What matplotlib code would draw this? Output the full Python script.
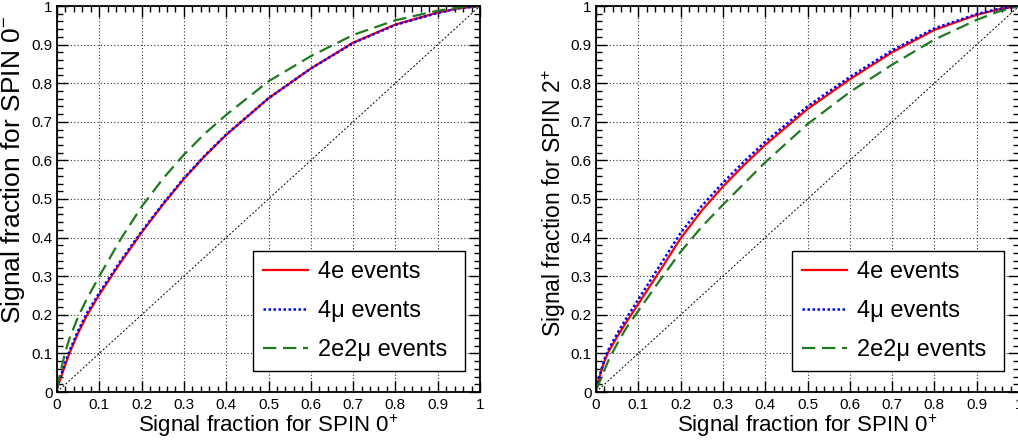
import matplotlib
matplotlib.use("Agg")
import matplotlib.pyplot as plt
from matplotlib.ticker import MultipleLocator, FuncFormatter

plt.rcParams['font.family'] = ['Liberation Sans', 'DejaVu Sans']
plt.rcParams['mathtext.fontset'] = 'custom'
plt.rcParams['mathtext.rm'] = 'Liberation Sans'
plt.rcParams['mathtext.it'] = 'Liberation Sans:italic'

# ---- data ----
x_pts = [0, 0.01, 0.02, 0.03, 0.05, 0.07, 0.1, 0.15, 0.2, 0.25, 0.3, 0.35,
         0.4, 0.5, 0.6, 0.7, 0.8, 0.9, 0.95, 1.0]

left_4e = [0.01, 0.04, 0.072, 0.102, 0.153, 0.197, 0.252, 0.335, 0.413, 0.485, 0.552,
           0.612, 0.666, 0.761, 0.838, 0.905, 0.952, 0.983, 0.994, 1.0]
left_4mu = [0.012, 0.045, 0.078, 0.108, 0.159, 0.203, 0.257, 0.339, 0.416, 0.487, 0.554,
            0.613, 0.667, 0.761, 0.838, 0.904, 0.951, 0.982, 0.994, 1.0]
left_2e2mu = [0.01, 0.06, 0.106, 0.14, 0.195, 0.24, 0.30, 0.395, 0.48, 0.552, 0.615,
              0.67, 0.718, 0.805, 0.87, 0.925, 0.963, 0.988, 0.996, 1.0]

right_4e = [0.01, 0.045, 0.08, 0.105, 0.143, 0.178, 0.228, 0.312, 0.398, 0.47, 0.532,
            0.588, 0.640, 0.733, 0.81, 0.88, 0.938, 0.977, 0.991, 1.0]
right_4mu = [0.01, 0.048, 0.085, 0.111, 0.151, 0.188, 0.240, 0.326, 0.412, 0.482, 0.542,
             0.597, 0.648, 0.740, 0.816, 0.885, 0.942, 0.979, 0.992, 1.0]
right_2e2mu = [0.005, 0.03, 0.057, 0.083, 0.125, 0.163, 0.21, 0.288, 0.363, 0.428, 0.485,
               0.54, 0.595, 0.694, 0.777, 0.848, 0.913, 0.964, 0.985, 1.0]

diag = [0, 1]

labels = ['4e events', '4\u03bc events', '2e2\u03bc events']
xlabel = r'Signal fraction for SPIN 0$^{+}$'
ylabels = [r'Signal fraction for SPIN 0$^{-}$', r'Signal fraction for SPIN 2$^{+}$']

W, H = 1018, 442
fig = plt.figure(figsize=(W / 100, H / 100), dpi=100)
ax1 = fig.add_axes([57 / W, 50 / H, 423 / W, 386 / H])
ax2 = fig.add_axes([596 / W, 50 / H, 423 / W, 386 / H])

fmt = FuncFormatter(lambda v, p: '%g' % round(v, 2))

panels = [(ax1, (left_4e, left_4mu, left_2e2mu), ylabels[0], 19, (-0.07, 0.575)),
          (ax2, (right_4e, right_4mu, right_2e2mu), ylabels[1], 16.5, (-0.066, 0.49))]

for ax, (s1, s2, s3), ylab, yfs, ycoords in panels:
    ax.set_xlim(0, 1)
    ax.set_ylim(0, 1)
    ax.grid(True, which='major', color='#333333', linestyle=(0, (1, 2)), linewidth=0.8)
    ax.set_axisbelow(True)
    ax.plot(diag, diag, color='black', linestyle=(0, (2, 2)), linewidth=0.7)
    ax.plot(x_pts, s1, color='#ff0000', linewidth=1.6, label=labels[0])
    ax.plot(x_pts, s2, color='#0000ff', linestyle=(0, (1, 1)), linewidth=1.8, label=labels[1])
    ax.plot(x_pts, s3, color='#1f7a1f', linestyle=(0, (6, 3)), linewidth=1.6, label=labels[2])

    ax.xaxis.set_major_locator(MultipleLocator(0.1))
    ax.yaxis.set_major_locator(MultipleLocator(0.1))
    ax.xaxis.set_minor_locator(MultipleLocator(0.02))
    ax.yaxis.set_minor_locator(MultipleLocator(0.02))
    ax.xaxis.set_major_formatter(fmt)
    ax.yaxis.set_major_formatter(fmt)
    ax.tick_params(which='both', direction='in', top=True, right=True, labelsize=11,
                   colors='black', width=1)
    ax.tick_params(which='major', length=8)
    ax.tick_params(which='minor', length=4)
    ax.tick_params(axis='x', pad=4)
    ax.tick_params(axis='y', pad=3)
    for sp in ax.spines.values():
        sp.set_linewidth(1.3)

    ax.set_xlabel(xlabel, fontsize=16, labelpad=1)
    ax.set_ylabel(ylab, fontsize=yfs)
    ax.yaxis.set_label_coords(*ycoords)

    leg = ax.legend(loc='lower left', bbox_to_anchor=(0.463, 0.054, 0.502, 0.311),
                    mode='expand', fontsize=17,
                    frameon=True, fancybox=False, shadow=False, framealpha=1,
                    edgecolor='black', borderpad=0.42, labelspacing=0.72,
                    handlelength=1.9, handletextpad=0.45, borderaxespad=0)
    leg.get_frame().set_linewidth(1.0)

fig.savefig('out.png', dpi=100)
